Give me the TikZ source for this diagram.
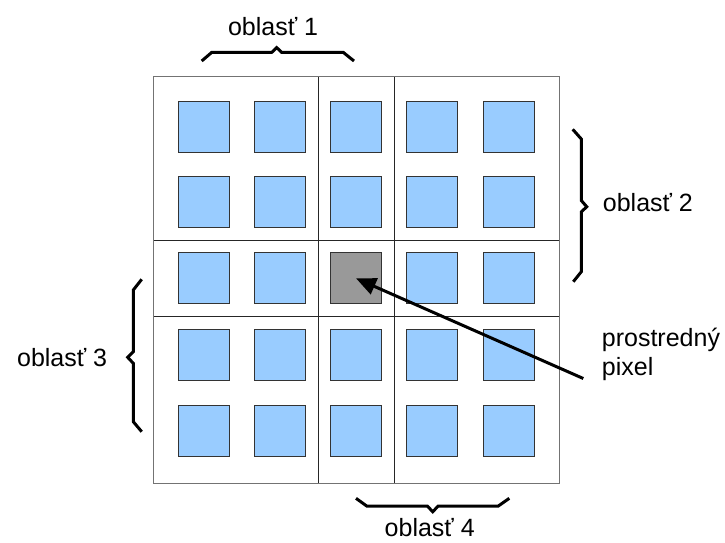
\documentclass[tikz,border=0pt]{standalone}
\usepackage{fontspec}
\setmainfont{Liberation Sans}
\usetikzlibrary{arrows.meta}
\definecolor{pixblue}{HTML}{99CCFF}
\definecolor{pixgray}{HTML}{999999}
\definecolor{pixedge}{HTML}{333333}
\tikzset{
  pix/.style={draw=pixedge, line width=1pt, fill=pixblue, minimum size=51pt, inner sep=0pt, outer sep=0pt},
  midpix/.style={pix, fill=pixgray},
  frameline/.style={draw=black!55, line width=1pt},
  cellline/.style={draw=black!85, line width=1pt},
  bracket/.style={line width=3pt, miter limit=4},
  lbl/.style={inner sep=0pt, font=\fontsize{25}{28.3}\selectfont},
  pointer/.style={line width=3pt, -{Triangle[length=20pt,width=17pt]}}
}
\begin{document}
\begin{tikzpicture}[x=1pt,y=-1pt]
\useasboundingbox (0,0) rectangle (725,542);
% pixel squares: columns and rows at a pitch of 76.3
\foreach \i/\x in {1/203.7,2/280,3/356,4/432.3,5/508.6}{
  \foreach \j/\y in {1/127.3,2/202.3,3/278.3,4/354.7,5/430.5}{
    \node[pix] (p\j\i) at (\x,\y) {};
  }
}
\node[midpix] (p33) at (356,278.3) {};
% cell division lines
\draw[cellline] (318,76) -- (318,483);
\draw[cellline] (394.4,76) -- (394.4,483);
\draw[cellline] (153,240.5) -- (559,240.5);
\draw[cellline] (153,316.7) -- (559,316.7);
% outer frame
\draw[frameline] (153,76) rectangle (559,483);
% braces marking the regions
\draw[bracket] (201.7,61) -- (211.7,52.4) -- (271.7,52.4) -- (276.7,47.6) -- (281.7,52.4) -- (343.3,52.4) -- (354,61);
\draw[bracket] (572.7,129.3) -- (581.3,139) -- (581.3,200.5) -- (586.7,206.7) -- (581.3,212) -- (581.3,271.7) -- (573.3,281.7);
\draw[bracket] (141.7,279.3) -- (133.3,290) -- (133.3,351.7) -- (127.7,357.3) -- (133.3,363.3) -- (133.3,421.7) -- (141.7,431.7);
\draw[bracket] (356,498.3) -- (366.7,506) -- (427.3,506) -- (432.7,511.7) -- (438.3,506) -- (498.3,506) -- (509.3,498.3);
% labels
\node[lbl, anchor=base] (l1) at (273,35) {oblasť 1};
\node[lbl, anchor=base west] (l2) at (602.7,211.7) {oblasť 2};
\node[lbl, anchor=base east] (l3) at (107.3,366) {oblasť 3};
\node[lbl, anchor=base] (l4) at (429.7,536) {oblasť 4};
\node[lbl, anchor=base west, align=left] (mid) at (601.7,375) {prostredný\\pixel};
% pointer to the middle pixel
\coordinate (tail) at (583.3,378.5);
\draw[pointer] (tail) -- (p33.center);
\end{tikzpicture}
\end{document}
